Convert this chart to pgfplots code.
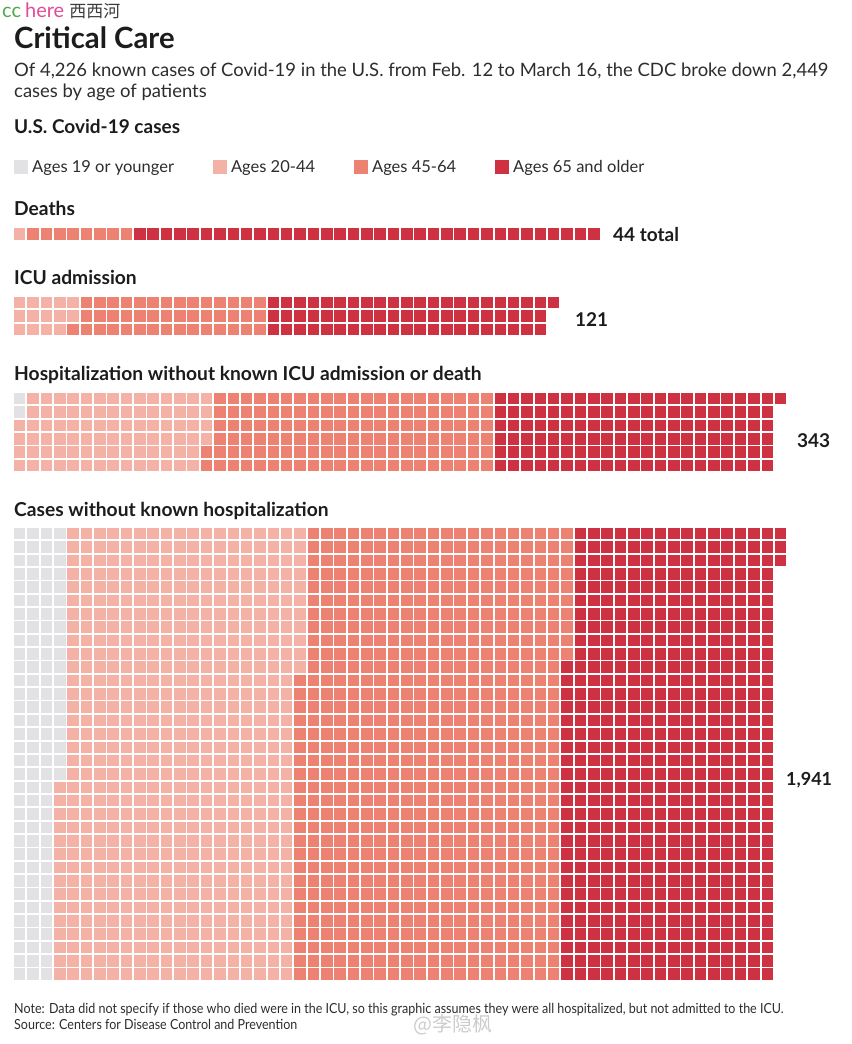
\documentclass[border=0pt]{standalone}
\usepackage{fontspec}
\setmainfont{Lato}
\newfontfamily\cjk{Noto Sans CJK SC}
\newfontfamily\narrowfont[FakeStretch=0.9]{Lato}
\usepackage{pgfplots}
\pgfplotsset{compat=1.18}

\definecolor{cgray}{RGB}{226,226,229}
\definecolor{clight}{RGB}{244,178,167}
\definecolor{cmid}{RGB}{238,130,114}
\definecolor{cred}{RGB}{205,49,66}
\definecolor{txt}{RGB}{28,28,28}
\definecolor{subtxt}{RGB}{45,45,45}

\pgfplotsset{
  waffle/.style={
    scale only axis, x=13.35bp, y=13.35bp, y dir=reverse,
    xmin=0, xmax=58, ymin=0, ymax=#1,
    xtick={0,...,58}, ytick={0,...,#1},
    xticklabels={}, yticklabels={},
    major tick length=0pt,
    axis line style={draw=none},
    grid=major, major grid style={white, line width=1.8bp},
    axis on top, clip=false,
    anchor=north west,
  },
}

\begin{document}
\begin{tikzpicture}[x=1bp,y=1bp]
\fill[white] (0,0) rectangle (852,-1044);
\path[use as bounding box] (0,0) rectangle (852,-1044);

% header watermark
\node[anchor=base west, inner sep=0] at (2,-17) {\fontsize{20bp}{20bp}\selectfont\textcolor[RGB]{80,170,80}{cc}\hspace{4bp}\textcolor[RGB]{226,76,150}{here}\hspace{5bp}\textcolor[RGB]{60,60,60}{\cjk\fontsize{17bp}{17bp}\selectfont 西西河}};

% title
\node[anchor=base west, inner sep=0, text=txt] at (14,-48) {\fontsize{29.3bp}{29.3bp}\selectfont\bfseries Critical Care};
\node[anchor=base west, inner sep=0, text=subtxt] at (14,-76) {\fontsize{18.45bp}{18.45bp}\selectfont Of 4,226 known cases of Covid-19 in the U.S. from Feb. 12 to March 16, the CDC broke down 2,449};
\node[anchor=base west, inner sep=0, text=subtxt] at (14,-97) {\fontsize{18.45bp}{18.45bp}\selectfont cases by age of patients};
\node[anchor=base west, inner sep=0, text=txt] at (14,-133) {\fontsize{19bp}{19bp}\selectfont\bfseries U.S. Covid-19 cases};

% legend (hidden axis)
\begin{axis}[hide axis, scale only axis, width=640bp, height=14bp,
  xmin=0, xmax=1, ymin=0, ymax=1,
  at={(14bp,-160bp)}, anchor=north west,
  legend columns=4,
  legend style={at={(0,0.5)}, anchor=west, draw=none, fill=none, inner sep=0pt,
    font=\fontsize{16.5bp}{16.5bp}\selectfont, text=subtxt,
    /tikz/every odd column/.append style={column sep=2bp},
    /tikz/every even column/.append style={column sep=37bp}},
  legend image code/.code={\fill[#1, draw=none] (0bp,-7bp) rectangle (14bp,7bp);},
]
\addlegendimage{fill=cgray, draw=none}
\addlegendentry{Ages 19 or younger}
\addlegendimage{fill=clight, draw=none}
\addlegendentry{Ages 20-44}
\addlegendimage{fill=cmid, draw=none}
\addlegendentry{Ages 45-64}
\addlegendimage{fill=cred, draw=none}
\addlegendentry{Ages 65 and older}
\end{axis}

% section titles
\node[anchor=base west, inner sep=0, text=txt] at (14,-215) {\fontsize{19.2bp}{19.2bp}\selectfont\bfseries Deaths};
\node[anchor=base west, inner sep=0, text=txt] at (14,-284) {\fontsize{19.2bp}{19.2bp}\selectfont\bfseries ICU admission};
\node[anchor=base west, inner sep=0, text=txt] at (14,-380) {\fontsize{19.2bp}{19.2bp}\selectfont\bfseries Hospitalization without known ICU admission or death};
\node[anchor=base west, inner sep=0, text=txt] at (14,-516) {\fontsize{19.2bp}{19.2bp}\selectfont\bfseries Cases without known hospitalization};

% Deaths: 44 = 0 / 1 / 8 / 35, one row
\begin{axis}[waffle=1, at={(13bp,-227.5bp)}]
\addplot[fill=clight, draw=none] coordinates {(0,0) (0,1) (1,1) (1,0) (0,0)};
\addplot[fill=cmid, draw=none] coordinates {(1,0) (1,1) (9,1) (9,0) (1,0)};
\addplot[fill=cred, draw=none] coordinates {(9,0) (9,1) (44,1) (44,0) (9,0)};
\end{axis}

% ICU: 121 = 0 / 14 / 43 / 64, three rows, filled column by column
\begin{axis}[waffle=3, at={(13bp,-296bp)}]
\addplot[fill=clight, draw=none] coordinates {(0,0) (0,3) (4,3) (4,2) (5,2) (5,0) (0,0)};
\addplot[fill=cmid, draw=none] coordinates {(4,2) (4,3) (19,3) (19,0) (5,0) (5,2) (4,2)};
\addplot[fill=cred, draw=none] coordinates {(19,0) (19,3) (40,3) (40,1) (41,1) (41,0) (19,0)};
\end{axis}

% Hospitalization: 343 = 2 / 86 / 128 / 127, six rows
\begin{axis}[waffle=6, at={(13bp,-392bp)}]
\addplot[fill=cgray, draw=none] coordinates {(0,0) (0,2) (1,2) (1,0) (0,0)};
\addplot[fill=clight, draw=none] coordinates {(0,2) (0,6) (14,6) (14,4) (15,4) (15,0) (1,0) (1,2) (0,2)};
\addplot[fill=cmid, draw=none] coordinates {(14,4) (14,6) (36,6) (36,0) (15,0) (15,4) (14,4)};
\addplot[fill=cred, draw=none] coordinates {(36,0) (36,6) (57,6) (57,1) (58,1) (58,0) (36,0)};
\end{axis}

% Cases without hospitalization: 1941 = 121 / 604 / 679 / 537, 34 rows
\begin{axis}[waffle=34, at={(13bp,-527bp)}]
\addplot[fill=cgray, draw=none] coordinates {(0,0) (0,34) (3,34) (3,19) (4,19) (4,0) (0,0)};
\addplot[fill=clight, draw=none] coordinates {(3,19) (3,34) (21,34) (21,11) (22,11) (22,0) (4,0) (4,19) (3,19)};
\addplot[fill=cmid, draw=none] coordinates {(21,11) (21,34) (41,34) (41,10) (42,10) (42,0) (22,0) (22,11) (21,11)};
\addplot[fill=cred, draw=none] coordinates {(41,10) (41,34) (57,34) (57,3) (58,3) (58,0) (42,0) (42,10) (41,10)};
\end{axis}

% totals
\node[anchor=base west, inner sep=0, text=txt] at (613,-241) {\fontsize{19bp}{19bp}\selectfont\bfseries 44 total};
\node[anchor=base west, inner sep=0, text=txt] at (575,-326) {\fontsize{19bp}{19bp}\selectfont\bfseries 121};
\node[anchor=base west, inner sep=0, text=txt] at (797,-447) {\fontsize{19bp}{19bp}\selectfont\bfseries 343};
\node[anchor=base west, inner sep=0, text=txt] at (786,-785) {\fontsize{18bp}{18bp}\selectfont\bfseries 1,941};

% notes
\node[anchor=base west, inner sep=0, text=subtxt] at (14,-1013) {\narrowfont\fontsize{13.9bp}{13.9bp}\selectfont Note: Data did not specify if those who died were in the ICU, so this graphic assumes they were all hospitalized, but not admitted to the ICU.};
\node[anchor=base west, inner sep=0, text=subtxt] at (14,-1029) {\narrowfont\fontsize{13.9bp}{13.9bp}\selectfont Source: Centers for Disease Control and Prevention};

% weibo watermark
\node[anchor=base west, inner sep=0, text=black, opacity=0.2] at (413,-1031) {\cjk\fontsize{20bp}{20bp}\selectfont @李隐枫};
\end{tikzpicture}
\end{document}
